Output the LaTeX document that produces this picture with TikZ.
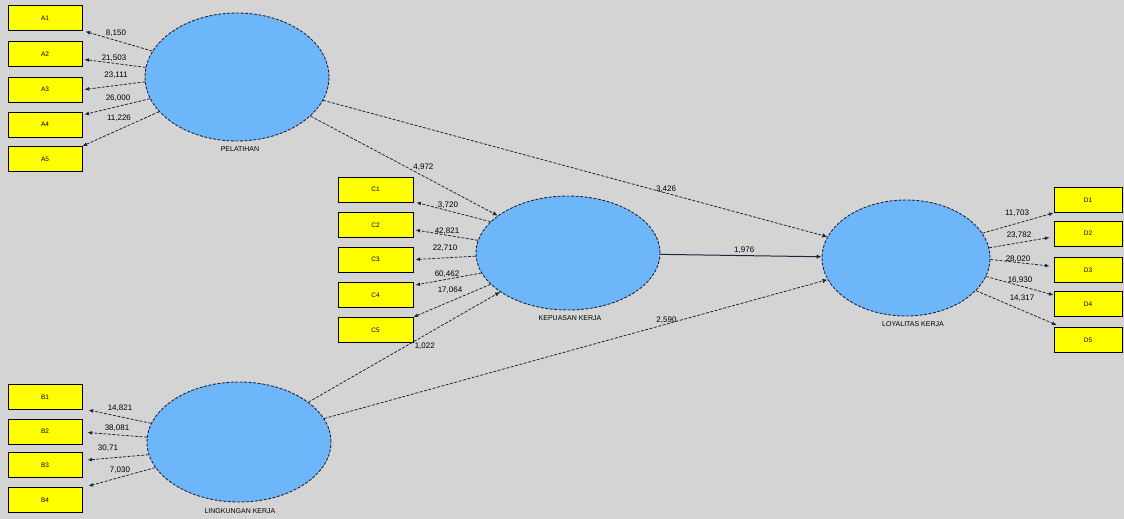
\documentclass[tikz,border=0pt]{standalone}
\usepackage{fontspec}
\setmainfont{Liberation Sans}
\usetikzlibrary{shapes.geometric,arrows.meta,calc}
\definecolor{bgc}{RGB}{212,212,212}
\definecolor{lvc}{RGB}{110,182,250}
\definecolor{ybox}{RGB}{255,255,0}
\definecolor{edgec}{RGB}{30,40,60}
\begin{document}
\begin{tikzpicture}[x=1pt,y=-1pt,
  lv/.style={ellipse,draw=edgec,dash pattern=on 3pt off 1.5pt,line width=0.9pt,fill=lvc,inner sep=0pt},
  ind/.style={rectangle,draw=black,line width=1pt,fill=ybox,minimum height=25pt,inner sep=0pt,font=\fontsize{6.5}{7}\selectfont},
  lvname/.style={font=\fontsize{7}{8}\selectfont,inner sep=1pt},
  num/.style={font=\fontsize{8}{9}\selectfont,inner sep=0.5pt},
  lk/.style={draw=edgec,dash pattern=on 3pt off 1.5pt,line width=0.8pt,-{Latex[length=4.5pt,width=4pt]}},
  pth/.style={draw=edgec,dash pattern=on 3pt off 1.5pt,line width=0.8pt,-{Latex[length=5pt,width=4.5pt]}}
]
\fill[bgc] (0,0) rectangle (1124,519);
\useasboundingbox (0,0) rectangle (1124,519);

% latent variables
\node[lv,minimum width=184pt,minimum height=128pt] (P) at (237,77) {};
\node[lv,minimum width=184pt,minimum height=114pt] (K) at (568,253) {};
\node[lv,minimum width=168pt,minimum height=116pt] (Y) at (906,258) {};
\node[lv,minimum width=184pt,minimum height=120pt] (L) at (239,442) {};
\node[lvname] (Pn) at (240,149) {PELATIHAN};
\node[lvname] (Kn) at (570,318) {KEPUASAN KERJA};
\node[lvname] (Yn) at (913,324) {LOYALITAS KERJA};
\node[lvname] (Ln) at (240,511) {LINGKUNGAN KERJA};

% indicator boxes
\foreach \n/\y in {A1/18.5,A2/54.5,A3/89.5,A4/124.5,A5/159}
  \node[ind,minimum width=74pt] (\n) at (45,\y) {\n};
\foreach \n/\y in {C1/189.5,C2/225,C3/259.5,C4/295,C5/330}
  \node[ind,minimum width=75pt] (\n) at (375.5,\y) {\n};
\foreach \n/\y in {B1/397,B2/431.5,B3/465,B4/500}
  \node[ind,minimum width=74pt] (\n) at (45,\y) {\n};
\foreach \n/\y in {D1/200,D2/233.5,D3/270,D4/304,D5/340}
  \node[ind,minimum width=68pt] (\n) at (1088,\y) {\n};

% outer loadings PELATIHAN
\draw[lk] (P.163) -- ($(A1.south east)+(3,0)$);
\draw[lk] (P.174) -- ($(A2.east)+(2,5)$);
\draw[lk] (P.183) -- ($(A3.east)+(2,0)$);
\draw[lk] (P.194) -- ($(A4.north east)+(2,3)$);
\draw[lk] (P.204) -- ($(A5.north east)+(0,0)$);
\node[num] (a1) at (116,33) {8,150};
\node[num] (a2) at (114,58) {21,503};
\node[num] (a3) at (116,75) {23,111};
\node[num] (a4) at (118,98) {26,000};
\node[num] (a5) at (119,118) {11,226};

% outer loadings KEPUASAN
\draw[lk] (K.158) -- ($(C1.south east)+(3,0)$);
\draw[lk] (K.172) -- ($(C2.east)+(2,5)$);
\draw[lk] (K.182) -- ($(C3.east)+(2,0)$);
\draw[lk] (K.193) -- ($(C4.north east)+(2,3)$);
\draw[lk] (K.202) -- ($(C5.north east)+(0,0)$);
\node[num] (c1) at (448,205) {3,720};
\node[num] (c2) at (447,231) {42,821};
\node[num] (c3) at (445,248) {22,710};
\node[num] (c4) at (447,274) {60,462};
\node[num] (c5) at (450,290) {17,064};

% outer loadings LINGKUNGAN
\draw[lk] (L.168) -- ($(B1.south east)+(6,0)$);
\draw[lk] (L.177) -- ($(B2.east)+(5,1)$);
\draw[lk] (L.188) -- ($(B3.east)+(5,-5)$);
\draw[lk] (L.197) -- ($(B4.north east)+(6,-1)$);
\node[num] (b1) at (120,408) {14,821};
\node[num] (b2) at (117,428) {38,081};
\node[num] (b3) at (108,448) {30,71};
\node[num] (b4) at (120,470) {7,030};

% outer loadings LOYALITAS
\draw[lk] (Y.18) -- (D1.south west);
\draw[lk] (Y.7) -- ($(D2.west)+(-4,4)$);
\draw[lk] (Y.-1) -- ($(D3.west)+(-4,-4)$);
\draw[lk] (Y.-13) -- ($(D4.north west)+(0,4)$);
\draw[lk] (Y.-25) -- ($(D5.north west)+(3,-2)$);
\node[num] (d1) at (1017,213) {11,703};
\node[num] (d2) at (1019,235) {23,782};
\node[num] (d3) at (1018,259) {28,020};
\node[num] (d4) at (1020,280) {16,930};
\node[num] (d5) at (1022,298) {14,317};

% inner paths
\draw[pth] (P) -- (K) node[num,pos=0.55,above right=-1pt] (pk) {4,972};
\draw[pth] (P) -- (Y) node[num,pos=0.68,above=0pt] (py) {3,426};
\draw[draw=edgec,line width=1pt,-{Latex[length=5pt,width=4.5pt]}] (K) -- (Y) node[num,pos=0.52,above=1pt] (ky) {1,976};
\draw[pth] (L) -- (K) node[num,pos=0.55,below right=0pt] (lk) {1,022};
\draw[pth] (L) -- (Y) node[num,pos=0.68,above=0pt] (ly) {2,590};
\end{tikzpicture}
\end{document}
